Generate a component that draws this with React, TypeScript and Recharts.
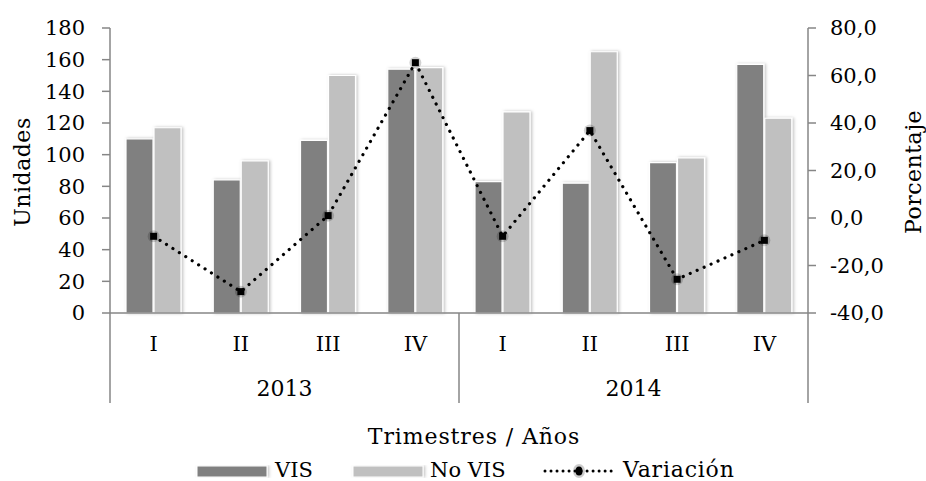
import React from 'react';
import {
  ComposedChart,
  Bar,
  Line,
  XAxis,
  YAxis,
} from 'recharts';

const quarters = ['I', 'II', 'III', 'IV', 'I', 'II', 'III', 'IV'];
const years = ['2013', '2013', '2013', '2013', '2014', '2014', '2014', '2014'];
const vis = [110, 84, 109, 154, 83, 82, 95, 157];
const noVis = [117, 96, 150, 155, 127, 165, 98, 123];
const variacion = [-7.7, -31.0, 1.0, 65.4, -7.7, 36.8, -25.8, -9.4];

const leftTicks = [0, 20, 40, 60, 80, 100, 120, 140, 160, 180];
const rightTicks = [-40, -20, 0, 20, 40, 60, 80];

const data = quarters.map((q, i) => ({
  key: `${years[i]}-${q}`,
  vis: vis[i],
  noVis: noVis[i],
  variacion: variacion[i],
}));

const W = 926;
const H = 481;
const PLOT_LEFT = 110;
const PLOT_RIGHT = 808;
const PLOT_TOP = 28;
const PLOT_BOTTOM = 313;
const FONT = "'DejaVu Serif', serif";
const AXIS = '#868686';

const tickStyle = { fontSize: 21, fill: '#000', fontFamily: FONT };

function fmtPct(v: number): string {
  return v.toFixed(1).replace('.', ',');
}

function QuarterTick(props: any) {
  const { x, y, index } = props;
  const band = (PLOT_RIGHT - PLOT_LEFT) / quarters.length;
  const parts: React.ReactNode[] = [];
  parts.push(
    <text key="q" x={x} y={y + 38} textAnchor="middle" style={tickStyle}>
      {quarters[index]}
    </text>
  );
  if (index % 4 === 0) {
    parts.push(
      <line key="l" x1={x - band / 2} x2={x - band / 2} y1={y} y2={y + 90} stroke={AXIS} strokeWidth={1.5} />
    );
    parts.push(
      <text key="y" x={x + band * 1.5} y={y + 83} textAnchor="middle" style={{ ...tickStyle, fontSize: 22 }}>
        {years[index]}
      </text>
    );
  }
  if (index === quarters.length - 1) {
    parts.push(
      <line key="r" x1={x + band / 2} x2={x + band / 2} y1={y} y2={y + 90} stroke={AXIS} strokeWidth={1.5} />
    );
  }
  return <g>{parts}</g>;
}

function VarDot(props: any) {
  const { cx, cy, index } = props;
  return (
    <g key={`d-${index}`}>
      <circle cx={cx} cy={cy} r={6} fill="#000" opacity={0.18} />
      <rect x={cx - 3.5} y={cy - 3.5} width={7} height={7} fill="#000" />
    </g>
  );
}

export default function App() {
  return (
    <div style={{ position: 'absolute', left: 0, top: 0, width: W, height: H, background: '#fff' }}>
      <ComposedChart
        width={W}
        height={H}
        data={data}
        barCategoryGap="19%"
        barGap={1}
        margin={{ top: PLOT_TOP, right: 0, left: 0, bottom: 0 }}
      >
        <defs>
          <filter id="shadow" x="-20%" y="-5%" width="140%" height="110%">
            <feDropShadow dx="1.5" dy="0" stdDeviation="1.5" floodColor="#000" floodOpacity="0.25" />
          </filter>
        </defs>
        <XAxis
          dataKey="key"
          height={H - PLOT_BOTTOM}
          tick={<QuarterTick />}
          tickLine={false}
          tickSize={0}
          tickMargin={0}
          interval={0}
          axisLine={{ stroke: AXIS, strokeWidth: 1.5 }}
        />
        <YAxis
          yAxisId="left"
          width={PLOT_LEFT}
          domain={[0, 180]}
          ticks={leftTicks}
          interval={0}
          tick={tickStyle}
          tickSize={8}
          tickMargin={17}
          axisLine={{ stroke: AXIS, strokeWidth: 1.5 }}
          tickLine={{ stroke: AXIS, strokeWidth: 1.5 }}
        />
        <YAxis
          yAxisId="right"
          orientation="right"
          width={W - PLOT_RIGHT}
          domain={[-40, 80]}
          ticks={rightTicks}
          interval={0}
          tickFormatter={fmtPct}
          tick={{ ...tickStyle, textAnchor: 'start' }}
          tickSize={8}
          tickMargin={14}
          axisLine={{ stroke: AXIS, strokeWidth: 1.5 }}
          tickLine={{ stroke: AXIS, strokeWidth: 1.5 }}
        />
        <Bar
          yAxisId="left"
          dataKey="vis"
          fill="#808080"
          stroke="#fff"
          strokeWidth={1.2}
          barSize={27}
          filter="url(#shadow)"
          isAnimationActive={false}
        />
        <Bar
          yAxisId="left"
          dataKey="noVis"
          fill="#c0c0c0"
          stroke="#fff"
          strokeWidth={1.2}
          barSize={27}
          filter="url(#shadow)"
          isAnimationActive={false}
        />
        <Line
          yAxisId="right"
          dataKey="variacion"
          type="linear"
          stroke="#000"
          strokeWidth={3.2}
          strokeDasharray="0.01 7.6"
          strokeLinecap="round"
          dot={<VarDot />}
          activeDot={false}
          isAnimationActive={false}
        />
      </ComposedChart>

      <svg
        width={W}
        height={H}
        style={{ position: 'absolute', left: 0, top: 0, pointerEvents: 'none', fontFamily: FONT }}
      >
        <text x={22} y={172} transform="rotate(-90 22 172)" textAnchor="middle" dominantBaseline="central" fontSize={22} letterSpacing={0.5}>
          Unidades
        </text>
        <text x={913} y={172} transform="rotate(-90 913 172)" textAnchor="middle" dominantBaseline="central" fontSize={22} letterSpacing={0.5}>
          Porcentaje
        </text>
        <text x={474} y={444} textAnchor="middle" fontSize={22} letterSpacing={0.9}>
          Trimestres / Años
        </text>

        <rect x={197} y={466} width={70} height={11} fill="#808080" stroke="#fff" strokeWidth={1} filter="url(#shadow)" />
        <text x={275} y={477} fontSize={21}>VIS</text>
        <rect x={353} y={466} width={70} height={11} fill="#c0c0c0" stroke="#fff" strokeWidth={1} filter="url(#shadow)" />
        <text x={430} y={477} fontSize={21}>No VIS</text>
        <line x1={545} x2={614} y1={471} y2={471} stroke="#000" strokeWidth={3} strokeDasharray="0.01 6" strokeLinecap="round" />
        <ellipse cx={579} cy={471} rx={6} ry={7} fill="#000" opacity={0.2} />
        <ellipse cx={579} cy={471} rx={3.5} ry={4.5} fill="#000" />
        <text x={623} y={477} fontSize={22} letterSpacing={0.8}>Variación</text>
      </svg>
    </div>
  );
}
